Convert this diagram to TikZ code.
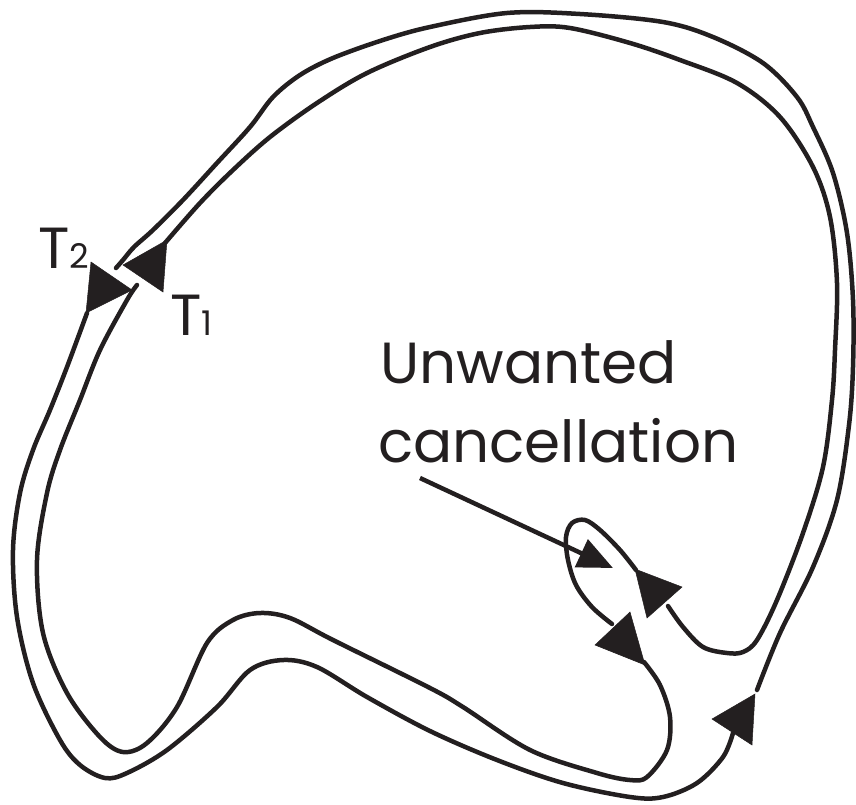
\documentclass[tikz,border=0pt]{standalone}
\usepackage{fontspec}
\setmainfont{Poppins}
\usetikzlibrary{arrows.meta}
\definecolor{ink}{HTML}{231F20}
\newcommand{\tidx}[1]{{\fontsize{34}{34}\selectfont #1}}
\tikzset{
  trace/.style={line width=4.5pt, line join=round, line cap=round, draw=ink},
  ahead/.style={fill=ink, draw=ink, line width=0.5pt},
  lbl/.style={font=\fontsize{58}{79}\selectfont, text=ink, inner sep=0pt}
}

\begin{document}
\begin{tikzpicture}[x=1pt,y=-1pt]
\useasboundingbox (0,0) rectangle (856,804);

% outer line, upper part
\draw[trace] plot[smooth, tension=0.55] coordinates {
  (116,268) (123,260) (134,247) (153,230) (183,200) (217,163) (250,127)
  (273,97) (300,75) (333,58) (383,40) (430,27) (507,13) (580,14) (663,22)
  (713,37) (763,63) (797,97) (813,127) (833,173) (847,233) (853,300)
  (853,367) (849,425) (837,500) (813,567) (780,633) (757,690)};

% outer line, lower part
\draw[trace] plot[smooth, tension=0.55] coordinates {
  (733,733) (723,757) (697,783) (663,797) (630,797) (563,783) (497,760)
  (430,731) (367,697) (317,667) (283,660) (250,670) (217,707) (167,750)
  (127,773) (105,778) (80,765) (60,740) (33,683) (17,617) (13,550)
  (20,493) (33,450) (50,410) (67,367) (87,313)};

% inner line, upper part
\draw[trace] plot[smooth, tension=0.55] coordinates {
  (165,243) (200,203) (233,170) (270,137) (317,103) (367,73) (430,47)
  (480,33) (530,27) (570,28) (630,43) (680,60) (737,83) (780,117)
  (813,167) (830,217) (837,283) (835,350) (832,400) (823,467) (803,533)
  (777,600) (757,640) (743,652) (727,653) (703,647) (683,627) (668,606)};

% small loop
\draw[trace] plot[smooth, tension=0.55] coordinates {
  (636,570) (620,550) (600,530) (585,520) (572,523) (566,537) (568,560)
  (576,585) (592,607) (612,624)};

% inner line, lower part
\draw[trace] plot[smooth, tension=0.55] coordinates {
  (644,662) (660,685) (670,717) (667,750) (647,777) (630,780) (597,773)
  (530,750) (463,707) (430,688) (333,640) (290,618) (260,613) (233,620)
  (207,643) (177,707) (147,743) (123,752) (100,737) (67,693) (43,633)
  (37,560) (47,493) (60,450) (80,400) (100,350) (127,300) (137,285)};

% arrowheads
\fill[ahead] (91,262) -- (86,313) -- (132,290) -- cycle;
\fill[ahead] (167,240) -- (163,292) -- (123,265) -- cycle;
\fill[ahead] (682,587) -- (647,618) -- (635,569) -- cycle;
\fill[ahead] (630,612) -- (595,645) -- (645,665) -- cycle;
\fill[ahead] (712,719) -- (752,745) -- (755,694) -- cycle;

% labels
\node[lbl, anchor=base west] (t2) at (38,268) {T\tidx{2}};
\node[lbl, anchor=base west] (t1) at (170,335) {T\tidx{1}};
\node[lbl, anchor=base west] (unw) at (380,383) {Unwanted};
\node[lbl, anchor=base west] (canc) at (378,462) {cancellation};

\coordinate (tail) at (420,478);
\coordinate (spot) at (613,568);
\draw[trace, line cap=butt, -{Triangle[length=35pt,width=30pt]}] (tail) -- (spot);

\end{tikzpicture}
\end{document}
